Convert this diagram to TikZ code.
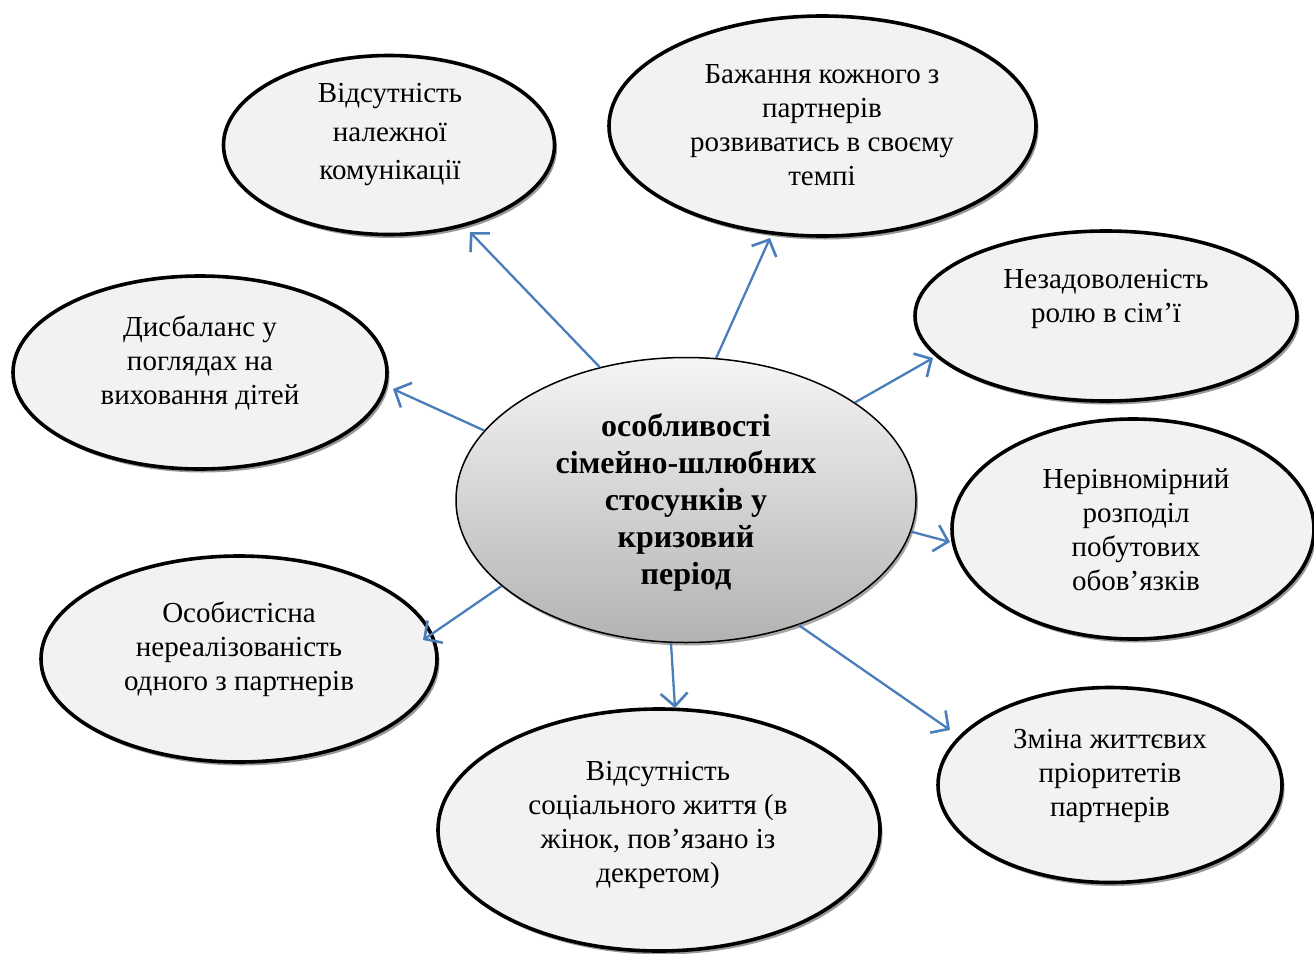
\documentclass[tikz,border=0pt]{standalone}
\usepackage{fontspec}
\setmainfont{Liberation Serif}
\usetikzlibrary{shapes.geometric,shadows,arrows.meta,calc}
\definecolor{arrblue}{HTML}{4A7EBB}
\definecolor{ellfill}{HTML}{F2F2F2}
\begin{document}
\begin{tikzpicture}[x=1pt,y=-1pt,
  outer/.style={ellipse, draw=black, line width=3.6pt, fill=ellfill, inner sep=0pt,
    drop shadow={shadow xshift=2.5pt, shadow yshift=-3.5pt, fill=black!40, opacity=1}},
  centre/.style={ellipse, draw=black, line width=1.5pt, inner sep=0pt,
    top color=black!4, bottom color=black!30,
    drop shadow={shadow xshift=2pt, shadow yshift=-3pt, fill=black!35, opacity=1}},
  lbl/.style={align=center, font=\fontsize{29}{34}\selectfont, inner sep=0pt},
  arr/.style={draw=arrblue, line width=2.3pt, -{Straight Barb[length=13pt,width=27pt,line width=2.6pt]}}]
\useasboundingbox (0,0) rectangle (1314,953);
\clip (0,0) rectangle (1314,953);
\fill[white] (0,0) rectangle (1314,953);

% outer ellipses
\node[outer, minimum width=331pt, minimum height=179pt] (e1) at (389,145) {};
\node[outer, minimum width=427pt, minimum height=220pt] (e2) at (822.5,126) {};
\node[outer, minimum width=382pt, minimum height=170pt] (e3) at (1106,316) {};
\node[outer, minimum width=374pt, minimum height=193pt] (e4) at (200,372.5) {};
\node[outer, minimum width=362pt, minimum height=220pt] (e5) at (1133,529) {};
\node[outer, minimum width=396pt, minimum height=206pt] (e6) at (239,659) {};
\node[outer, minimum width=442pt, minimum height=242pt] (e7) at (659,830) {};
\node[outer, minimum width=344pt, minimum height=195pt] (e8) at (1110,785) {};
% centre ellipse
\node[centre, minimum width=460pt, minimum height=285pt] (c) at (686,500) {};

% texts
\node[lbl, font=\fontsize{29}{38.5}\selectfont] (t1) at (390,135) {Відсутність\\належної\\комунікації};
\node[lbl] (t2) at (822,125) {Бажання кожного з\\партнерів\\розвиватись в своєму\\темпі};
\node[lbl] (t3) at (1106,299) {Незадоволеність\\ролю в сім’ї};
\node[lbl] (t4) at (200,363) {Дисбаланс у\\поглядах на\\виховання дітей};
\node[lbl] (t5) at (1136,530) {Нерівномірний\\розподіл\\побутових\\обов’язків};
\node[lbl] (t6) at (239,649) {Особистісна\\нереалізованість\\одного з партнерів};
\node[lbl] (t7) at (658,825) {Відсутність\\соціального життя (в\\жінок, пов’язано із\\декретом)};
\node[lbl] (t8) at (1110,776) {Зміна життєвих\\пріоритетів\\партнерів};
\node[lbl, font=\fontsize{32}{37}\selectfont\bfseries] (tc) at (686,502) {особливості\\сімейно-шлюбних\\стосунків у\\кризовий\\період};

% arrows
\draw[arr] (c.123.7) -- ($(e1.center)+(81,87)$);
\draw[arr] (c.78.9) -- ($(e2.center)+(-52.5,112)$);
\draw[arr] (c.30.8) -- ($(e3.center)+(-173,42)$);
\draw[arr] (c.161.8) -- ($(e4.center)+(193,16.5)$);
\draw[arr] (c.-8.2) -- ($(e5.center)+(-183,13)$);
\draw[arr] (c.205.5) -- ($(e6.center)+(184,-19)$);
\draw[arr] (c.264.4) -- ($(e7.center)+(16,-122)$);
\draw[arr] (c.-48.8) -- ($(e8.center)+(-160,-55)$);
\end{tikzpicture}
\end{document}
